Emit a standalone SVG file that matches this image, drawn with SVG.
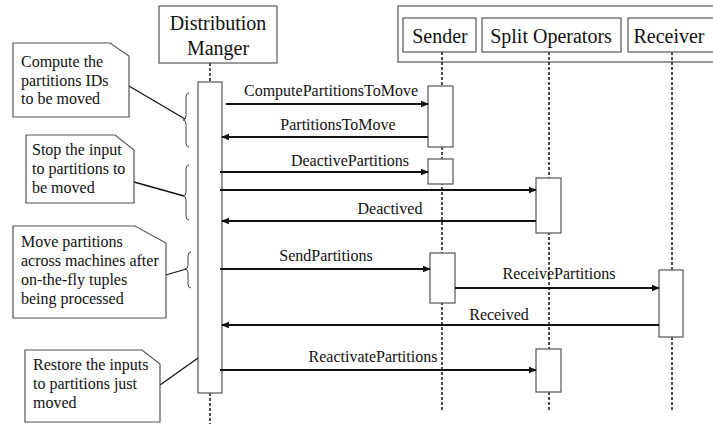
<svg xmlns="http://www.w3.org/2000/svg" width="713" height="425" viewBox="0 0 713 425">
<style>
text{font-family:"Liberation Serif","Times New Roman",serif;fill:#111}
.h{font-size:20px;text-anchor:middle}
.n{font-size:16px}
.l{font-size:16px;text-anchor:middle}
.box{fill:#fff;stroke:#555;stroke-width:1.2}
.life{stroke:#111;stroke-width:1.5;stroke-dasharray:3,2;fill:none}
.msg{stroke:#111;stroke-width:2;fill:none}
.br{stroke:#444;stroke-width:1;fill:none}
.lead{stroke:#111;stroke-width:1.3;fill:none}
</style>
<defs>
<marker id="ah" markerWidth="8" markerHeight="8" refX="7" refY="4" orient="auto" markerUnits="userSpaceOnUse">
<path d="M0,0.8 L8,4 L0,7.2 z" fill="#111"/>
</marker>
</defs>
<rect width="713" height="425" fill="#fff"/>
<g id="frame"><rect class="box" x="398" y="6" width="330" height="56"/></g>
<g id="lifelines">
<line class="life" x1="210" y1="63" x2="210" y2="424"/>
<line class="life" x1="442" y1="52" x2="442" y2="412"/>
<line class="life" x1="549" y1="52" x2="549" y2="412"/>
<line class="life" x1="672" y1="52" x2="672" y2="412"/>
</g>
<g id="dm"><rect class="box" x="159" y="6" width="118" height="57"/><text class="h" x="218" y="30">Distribution</text><text class="h" x="218" y="55">Manger</text></g>
<g id="sender"><rect class="box" x="403" y="18" width="73" height="34"/><text class="h" x="440" y="43">Sender</text></g>
<g id="split"><rect class="box" x="482" y="18" width="139" height="34"/><text class="h" x="551" y="43">Split Operators</text></g>
<g id="receiver"><rect class="box" x="628" y="18" width="100" height="34"/><text class="h" x="669" y="43">Receiver</text></g>
<g id="activations">
<rect class="box" x="198" y="82" width="24" height="311"/>
<rect class="box" x="428" y="86" width="25" height="61"/>
<rect class="box" x="428" y="159" width="25" height="25"/>
<rect class="box" x="536" y="178" width="25" height="55"/>
<rect class="box" x="430" y="253" width="25" height="50"/>
<rect class="box" x="659" y="270" width="24" height="67"/>
<rect class="box" x="536" y="349" width="25" height="43"/>
</g>
<g id="connectors">
<line class="msg" x1="226" y1="104" x2="428" y2="104" marker-end="url(#ah)"/>
<line class="msg" x1="428" y1="137" x2="222" y2="137" marker-end="url(#ah)"/>
<line class="msg" x1="220" y1="172" x2="428" y2="172" marker-end="url(#ah)"/>
<line class="msg" x1="220" y1="190" x2="536" y2="190" marker-end="url(#ah)"/>
<line class="msg" x1="536" y1="221" x2="222" y2="221" marker-end="url(#ah)"/>
<line class="msg" x1="220" y1="269" x2="430" y2="269" marker-end="url(#ah)"/>
<line class="msg" x1="455" y1="288" x2="659" y2="288" marker-end="url(#ah)"/>
<line class="msg" x1="659" y1="325" x2="222" y2="325" marker-end="url(#ah)"/>
<line class="msg" x1="220" y1="370" x2="536" y2="370" marker-end="url(#ah)"/>
<line class="lead" x1="129" y1="86" x2="185" y2="119"/>
<line class="lead" x1="134" y1="182" x2="184" y2="196"/>
<line class="lead" x1="166" y1="275" x2="186" y2="269"/>
<line class="lead" x1="160" y1="385" x2="198" y2="358"/>
</g>
<g id="labels">
<text class="l" x="331" y="96">ComputePartitionsToMove</text>
<text class="l" x="338" y="130">PartitionsToMove</text>
<text class="l" x="350" y="166">DeactivePartitions</text>
<text class="l" x="390" y="214">Deactived</text>
<text class="l" x="326" y="261">SendPartitions</text>
<text class="l" x="559" y="279">ReceivePartitions</text>
<text class="l" x="499" y="320">Received</text>
<text class="l" x="373" y="362">ReactivatePartitions</text>
</g>
<g id="braces">
<path class="br" d="M189,93 Q186,93 186,97 L186,116 Q186,120 183,120 Q186,120 186,124 L186,143 Q186,147 189,147"/>
<path class="br" d="M189,165 Q186,165 186,169 L186,192 Q186,196 183,196 Q186,196 186,200 L186,216 Q186,220 189,220"/>
<path class="br" d="M191,252 Q188,252 188,256 L188,265 Q188,269 185,269 Q188,269 188,273 L188,284 Q188,288 191,288"/>
</g>
<g id="note1"><path class="box" d="M13,43 L110,43 L129,56 L129,117 L13,117 Z"/><text class="n" x="21" y="67">Compute the</text><text class="n" x="21" y="86">partitions IDs</text><text class="n" x="21" y="104">to be moved</text></g>
<g id="note2"><path class="box" d="M26,135 L115,135 L134,150 L134,203 L26,203 Z"/><text class="n" x="32" y="155">Stop the input</text><text class="n" x="32" y="174">to partitions to</text><text class="n" x="32" y="193">be moved</text></g>
<g id="note3"><path class="box" d="M13,226 L135,226 L166,243 L166,318 L13,318 Z"/><text class="n" x="21" y="247">Move partitions</text><text class="n" x="21" y="266">across machines after</text><text class="n" x="21" y="285">on-the-fly tuples</text><text class="n" x="21" y="304">being processed</text></g>
<g id="note4"><path class="box" d="M25,350 L142,350 L160,364 L160,422 L25,422 Z"/><text class="n" x="33" y="370">Restore the inputs</text><text class="n" x="33" y="389">to partitions just</text><text class="n" x="33" y="408">moved</text></g>
</svg>
